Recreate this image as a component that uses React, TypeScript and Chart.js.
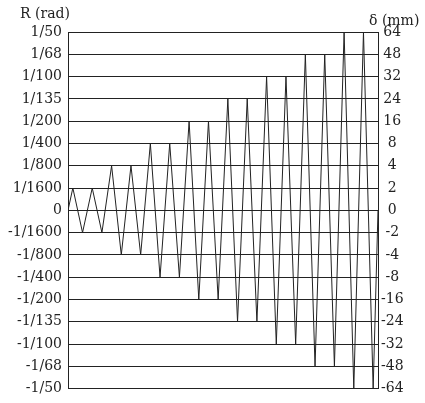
import React, { useEffect, useRef } from "react";
import { Chart, registerables } from "chart.js";

Chart.register(...registerables);

// Left axis: drift angle R (rad), top to bottom
const leftLabels = ["1/50", "1/68", "1/100", "1/135", "1/200", "1/400", "1/800", "1/1600", "0", "-1/1600", "-1/800", "-1/400", "-1/200", "-1/135", "-1/100", "-1/68", "-1/50"];
// Right axis: displacement δ (mm), top to bottom
const rightLabels = ["64", "48", "32", "24", "16", "8", "4", "2", "0", "-2", "-4", "-8", "-16", "-24", "-32", "-48", "-64"];

// Loading history: step position (half cycles) and amplitude level (index from 0)
const steps = [0, 0.5, 1.5, 2.5, 3.5, 4.5, 5.5, 6.5, 7.5, 8.5, 9.5, 10.5, 11.5, 12.5, 13.5, 14.5, 15.5, 16.5, 17.5, 18.5, 19.5, 20.5, 21.5, 22.5, 23.5, 24.5, 25.5, 26.5, 27.5, 28.5, 29.5, 30.5, 31.5, 32];
const levels = [0, 1, -1, 1, -1, 2, -2, 2, -2, 3, -3, 3, -3, 4, -4, 4, -4, 5, -5, 5, -5, 6, -6, 6, -6, 7, -7, 7, -7, 8, -8, 8, -8, 0];

const FONT = "'DejaVu Serif', 'Liberation Serif', serif";
const INK = "#222";

export default function App() {
  const ref = useRef<HTMLCanvasElement | null>(null);

  useEffect(() => {
    if (!ref.current) return;
    const titles = {
      id: "axisTitles",
      afterDraw(chart: any) {
        const ctx = chart.ctx;
        ctx.save();
        ctx.fillStyle = INK;
        ctx.font = `14px ${FONT}`;
        ctx.textBaseline = "alphabetic";
        ctx.textAlign = "left";
        ctx.fillText("R (rad)", 20, 18);
        ctx.fillText("δ (mm)", 369, 25);
        ctx.restore();
      },
    };
    const chart = new Chart(ref.current, {
      type: "line",
      data: {
        datasets: [
          {
            data: steps.map((s, i) => ({ x: s, y: levels[i] })),
            borderColor: INK,
            borderWidth: 1,
            pointRadius: 0,
            tension: 0,
            fill: false,
            yAxisID: "y",
          },
        ],
      },
      options: {
        responsive: false,
        animation: false,
        layout: { padding: { top: 32, bottom: 10, left: 0, right: 0 } },
        plugins: { legend: { display: false }, tooltip: { enabled: false } },
        scales: {
          x: { type: "linear", min: 0, max: 32, display: false },
          y: {
            position: "left",
            min: -8,
            max: 8,
            afterBuildTicks: (s: any) => {
              s.ticks = leftLabels.map((_, i) => ({ value: 8 - i }));
            },
            afterFit: (s: any) => {
              s.width = 68;
            },
            ticks: {
              callback: (v: any) => leftLabels[8 - Math.round(v)],
              color: INK,
              font: { family: FONT, size: 14 },
              padding: 6,
              autoSkip: false,
            },
            grid: { color: INK, lineWidth: 1, drawTicks: false },
            border: { color: INK, width: 1 },
          },
          y2: {
            position: "right",
            min: -8,
            max: 8,
            afterBuildTicks: (s: any) => {
              s.ticks = rightLabels.map((_, i) => ({ value: 8 - i }));
            },
            afterFit: (s: any) => {
              s.width = 47;
            },
            ticks: {
              callback: (v: any) => rightLabels[8 - Math.round(v)],
              color: INK,
              font: { family: FONT, size: 14 },
              padding: 3,
              crossAlign: "center",
              autoSkip: false,
            },
            grid: { display: false, drawTicks: false },
            border: { color: INK, width: 1 },
          },
        },
      },
      plugins: [titles],
    });
    return () => chart.destroy();
  }, []);

  return (
    <div style={{ position: "absolute", left: 0, top: 0, width: 425, height: 403, background: "#fff" }}>
      <canvas ref={ref} width={425} height={403} style={{ width: 425, height: 403 }} />
    </div>
  );
}
